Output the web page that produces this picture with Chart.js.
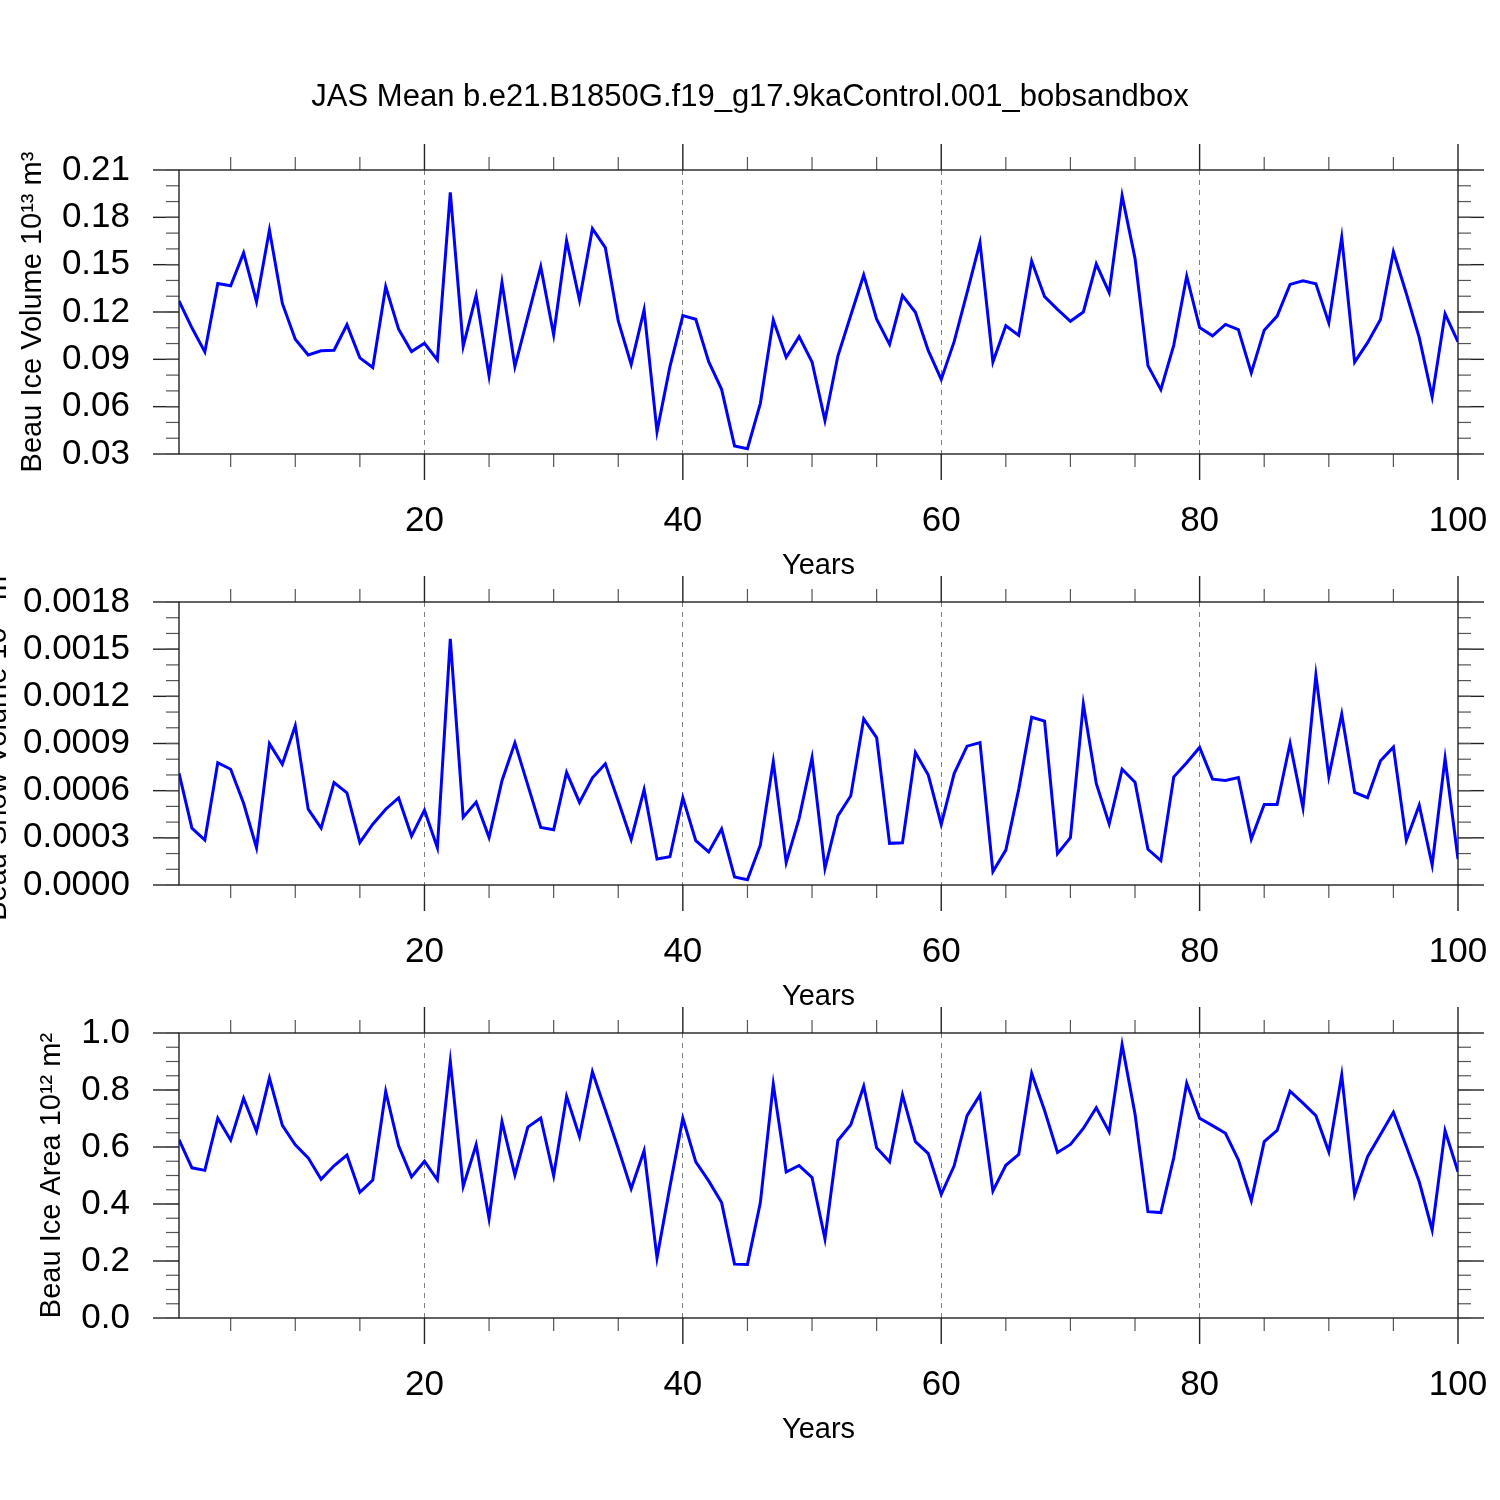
<!DOCTYPE html>
<html>
<head>
<meta charset="utf-8">
<script src="https://cdn.jsdelivr.net/npm/chart.js@4.4.1/dist/chart.umd.min.js"></script>
<style>
  html, body { margin: 0; padding: 0; background: #fff; }
  #wrap { position: relative; width: 1500px; height: 1500px; }
  #wrap canvas { position: absolute; left: 0; top: 0; }
</style>
</head>
<body>
<div id="wrap">
  <canvas id="iceVol" width="1500" height="1500"></canvas>
  <canvas id="snowVol" width="1500" height="1500"></canvas>
  <canvas id="iceArea" width="1500" height="1500"></canvas>
</div>
<script>
// years 1..100 on the x axis
const YEARS = Array.from({ length: 100 }, (_, i) => i + 1);
const X_TICKS = [20, 40, 60, 80, 100];

// Beau ice volume (10^13 m^3)
const ICE_VOLUME = [
  0.127, 0.110, 0.0947, 0.138, 0.1366, 0.1575, 0.1265, 0.172, 0.1254, 0.1028,
  0.0928, 0.0954, 0.0958, 0.1119, 0.0909, 0.0848, 0.136, 0.1091, 0.0949, 0.1002,
  0.0896, 0.1958, 0.0983, 0.1305, 0.0796, 0.1388, 0.0854, 0.117, 0.1487, 0.1056,
  0.1652, 0.1276, 0.1728, 0.1608, 0.1143, 0.0868, 0.1213, 0.0442, 0.0854, 0.1177,
  0.1154, 0.0885, 0.071, 0.0351, 0.0334, 0.0621, 0.1149, 0.0913, 0.1044, 0.0883,
  0.0513, 0.0921, 0.1179, 0.1435, 0.1154, 0.0995, 0.1304, 0.1198, 0.0955, 0.0773,
  0.1012, 0.1323, 0.164, 0.0883, 0.1113, 0.1052, 0.1523, 0.1297, 0.1217, 0.1141,
  0.12, 0.1504, 0.1323, 0.1937, 0.154, 0.086, 0.0708, 0.099, 0.1427, 0.1102,
  0.1049, 0.1121, 0.1089, 0.0814, 0.1085, 0.1174, 0.1375, 0.1398, 0.1379, 0.1131,
  0.1673, 0.0882, 0.1006, 0.1152, 0.1582, 0.1317, 0.1038, 0.0662, 0.1188, 0.1011
];

// Beau snow volume (10^13 m^3)
const SNOW_VOLUME = [
  0.000711, 0.000362, 0.000286, 0.000778, 0.000736, 0.00052, 0.000237, 0.000899, 0.000768, 0.001013,
  0.000482, 0.000362, 0.000651, 0.000586, 0.000271, 0.000387, 0.000482, 0.000554, 0.000311, 0.000476,
  0.000237, 0.001565, 0.000431, 0.000527, 0.000303, 0.000663, 0.000904, 0.000635, 0.000366, 0.000352,
  0.000716, 0.000525, 0.000682, 0.000771, 0.000534, 0.00029, 0.000606, 0.000165, 0.00018, 0.000555,
  0.000282, 0.00021, 0.000356, 0.000051, 0.000034, 0.000254, 0.000784, 0.000144, 0.000424, 0.000809,
  0.000106, 0.00044, 0.000568, 0.001057, 0.000938, 0.000265, 0.000269, 0.000843, 0.000699, 0.000385,
  0.000709, 0.000883, 0.000906, 0.000085, 0.000222, 0.00061, 0.001067, 0.001042, 0.000199, 0.000301,
  0.00115, 0.000646, 0.000388, 0.000737, 0.000654, 0.000227, 0.000155, 0.000688, 0.000777, 0.000875,
  0.000673, 0.000665, 0.000684, 0.000292, 0.000512, 0.000512, 0.0009, 0.000491, 0.001334, 0.00069,
  0.001086, 0.000589, 0.000555, 0.00079, 0.000877, 0.000284, 0.000508, 0.000127, 0.000805, 0.000165
];

// Beau ice area (10^12 m^2)
const ICE_AREA = [
  0.626, 0.527, 0.518, 0.701, 0.624, 0.771, 0.655, 0.842, 0.676, 0.608,
  0.562, 0.487, 0.534, 0.572, 0.441, 0.484, 0.795, 0.604, 0.495, 0.550,
  0.485, 0.900, 0.462, 0.608, 0.349, 0.689, 0.502, 0.670, 0.702, 0.500,
  0.778, 0.637, 0.864, 0.730, 0.595, 0.454, 0.587, 0.211, 0.461, 0.701,
  0.548, 0.481, 0.405, 0.189, 0.188, 0.405, 0.820, 0.512, 0.535, 0.493,
  0.278, 0.623, 0.678, 0.813, 0.597, 0.548, 0.783, 0.619, 0.577, 0.434,
  0.534, 0.710, 0.783, 0.446, 0.536, 0.574, 0.858, 0.728, 0.581, 0.609,
  0.665, 0.738, 0.653, 0.959, 0.716, 0.373, 0.370, 0.563, 0.824, 0.701,
  0.675, 0.648, 0.555, 0.412, 0.619, 0.658, 0.796, 0.754, 0.710, 0.583,
  0.853, 0.432, 0.566, 0.644, 0.722, 0.602, 0.478, 0.309, 0.657, 0.513
];

const ICE_VOL_TICKS = [0.03, 0.06, 0.09, 0.12, 0.15, 0.18, 0.21];
const ICE_VOL_LABELS = ['0.03', '0.06', '0.09', '0.12', '0.15', '0.18', '0.21'];
const SNOW_TICKS = [0, 0.0003, 0.0006, 0.0009, 0.0012, 0.0015, 0.0018];
const SNOW_LABELS = ['0.0000', '0.0003', '0.0006', '0.0009', '0.0012', '0.0015', '0.0018'];
const AREA_TICKS = [0, 0.2, 0.4, 0.6, 0.8, 1.0];
const AREA_LABELS = ['0.0', '0.2', '0.4', '0.6', '0.8', '1.0'];

const TITLE = 'JAS Mean b.e21.B1850G.f19_g17.9kaControl.001_bobsandbox';

Chart.defaults.font.family = "'Liberation Sans', Arial, Helvetica, sans-serif";
Chart.defaults.color = '#000';

// box frame with outward major/minor ticks on all four sides
const frameTicks = {
  id: 'frameTicks',
  beforeDatasetsDraw(chart, args, opts) {
    const { ctx, chartArea: a, scales: { x, y } } = chart;
    const seg = (x1, y1, x2, y2) => {
      ctx.beginPath();
      ctx.moveTo(x1, y1);
      ctx.lineTo(x2, y2);
      ctx.stroke();
    };
    ctx.save();
    ctx.strokeStyle = '#222';
    ctx.lineWidth = 1.4;
    X_TICKS.forEach(v => {
      const px = x.getPixelForValue(v);
      seg(px, a.top - 26, px, a.top);
      seg(px, a.bottom, px, a.bottom + 26);
    });
    opts.yMajor.forEach(v => {
      const py = y.getPixelForValue(v);
      seg(a.left - 26, py, a.left, py);
      seg(a.right, py, a.right + 26, py);
    });
    ctx.strokeStyle = '#555';
    ctx.lineWidth = 1.2;
    opts.xMinor.forEach(v => {
      const px = x.getPixelForValue(v);
      seg(px, a.top - 13, px, a.top);
      seg(px, a.bottom, px, a.bottom + 13);
    });
    opts.yMinor.forEach(v => {
      const py = y.getPixelForValue(v);
      seg(a.left - 13, py, a.left, py);
      seg(a.right, py, a.right + 13, py);
    });
    ctx.strokeStyle = '#222';
    ctx.lineWidth = 1.4;
    ctx.strokeRect(a.left, a.top, a.right - a.left, a.bottom - a.top);
    ctx.restore();
  }
};

const X_MINOR = [];
for (let k = 5; k < 100; k += 5) if (k % 20 !== 0) X_MINOR.push(k);

function makePanel(id, values, yTicks, yLabels, yMinorStep, yTitle, yTitleX, top, bottom, withTitle) {
  const lo = yTicks[0], hi = yTicks[yTicks.length - 1];
  const yMinor = [];
  const n = Math.round((hi - lo) / yMinorStep);
  for (let k = 0; k <= n; k++) yMinor.push(lo + k * yMinorStep);

  new Chart(document.getElementById(id), {
    type: 'line',
    data: {
      datasets: [{
        data: YEARS.map((yr, i) => ({ x: yr, y: values[i] })),
        borderColor: '#0000ff',
        borderWidth: 3,
        pointRadius: 0,
        tension: 0,
        fill: false
      }]
    },
    options: {
      responsive: false,
      animation: false,
      devicePixelRatio: 1,
      layout: { padding: { left: 0, right: 0, top: withTitle ? 0 : top, bottom: 1500 - bottom - 140 } },
      plugins: {
        legend: { display: false },
        tooltip: { enabled: false },
        title: withTitle ? {
          display: true,
          text: TITLE,
          font: { size: 31, weight: 'normal' },
          color: '#000',
          padding: { top: 78.4, bottom: top - 78.4 - 37.2 }
        } : { display: false },
        frameTicks: { yMajor: yTicks, yMinor: yMinor, xMinor: X_MINOR }
      },
      scales: {
        x: {
          type: 'linear',
          min: 1,
          max: 100,
          afterBuildTicks: s => { s.ticks = X_TICKS.map(v => ({ value: v })); },
          afterFit: s => { s.height = 140; s.paddingLeft = 0; s.paddingRight = 0; },
          ticks: { autoSkip: false, maxRotation: 0, padding: 46, font: { size: 35 }, color: '#000' },
          grid: {
            drawTicks: false,
            lineWidth: 1,
            color: c => (c.tick && c.tick.value < 100) ? '#808080' : 'rgba(0,0,0,0)'
          },
          border: { display: false, dash: [5, 5] },
          title: { display: true, text: 'Years', font: { size: 29 }, color: '#000', padding: { top: 0, bottom: 10.6 } }
        },
        y: {
          type: 'linear',
          min: lo,
          max: hi,
          afterBuildTicks: s => { s.ticks = yTicks.map(v => ({ value: v })); },
          afterFit: s => { s.width = 179; s.paddingTop = 0; s.paddingBottom = 0; },
          ticks: { padding: 41, font: { size: 35 }, color: '#000', callback: (v, i) => yLabels[i] },
          grid: { display: false },
          border: { display: false },
          title: { display: true, text: yTitle, font: { size: 29 }, color: '#000', padding: { top: yTitleX - 17.4, bottom: 0 } }
        },
        // empty right-hand strip so the plot ends at x = 1458 while the title stays page-centred
        yRight: {
          type: 'linear',
          position: 'right',
          afterFit: s => { s.width = 42; s.paddingTop = 0; s.paddingBottom = 0; },
          ticks: { display: false },
          grid: { display: false },
          border: { display: false }
        }
      }
    },
    plugins: [frameTicks]
  });
}

makePanel('iceVol', ICE_VOLUME, ICE_VOL_TICKS, ICE_VOL_LABELS, 0.01,
  'Beau Ice Volume 10\u00B9\u00B3 m\u00B3', 33, 170, 454, true);
makePanel('snowVol', SNOW_VOLUME, SNOW_TICKS, SNOW_LABELS, 0.0001,
  'Beau Snow Volume 10\u00B9\u00B3 m\u00B3', -2, 602, 885, false);
makePanel('iceArea', ICE_AREA, AREA_TICKS, AREA_LABELS, 0.05,
  'Beau Ice Area 10\u00B9\u00B2 m\u00B2', 52, 1033, 1318, false);
</script>
</body>
</html>
